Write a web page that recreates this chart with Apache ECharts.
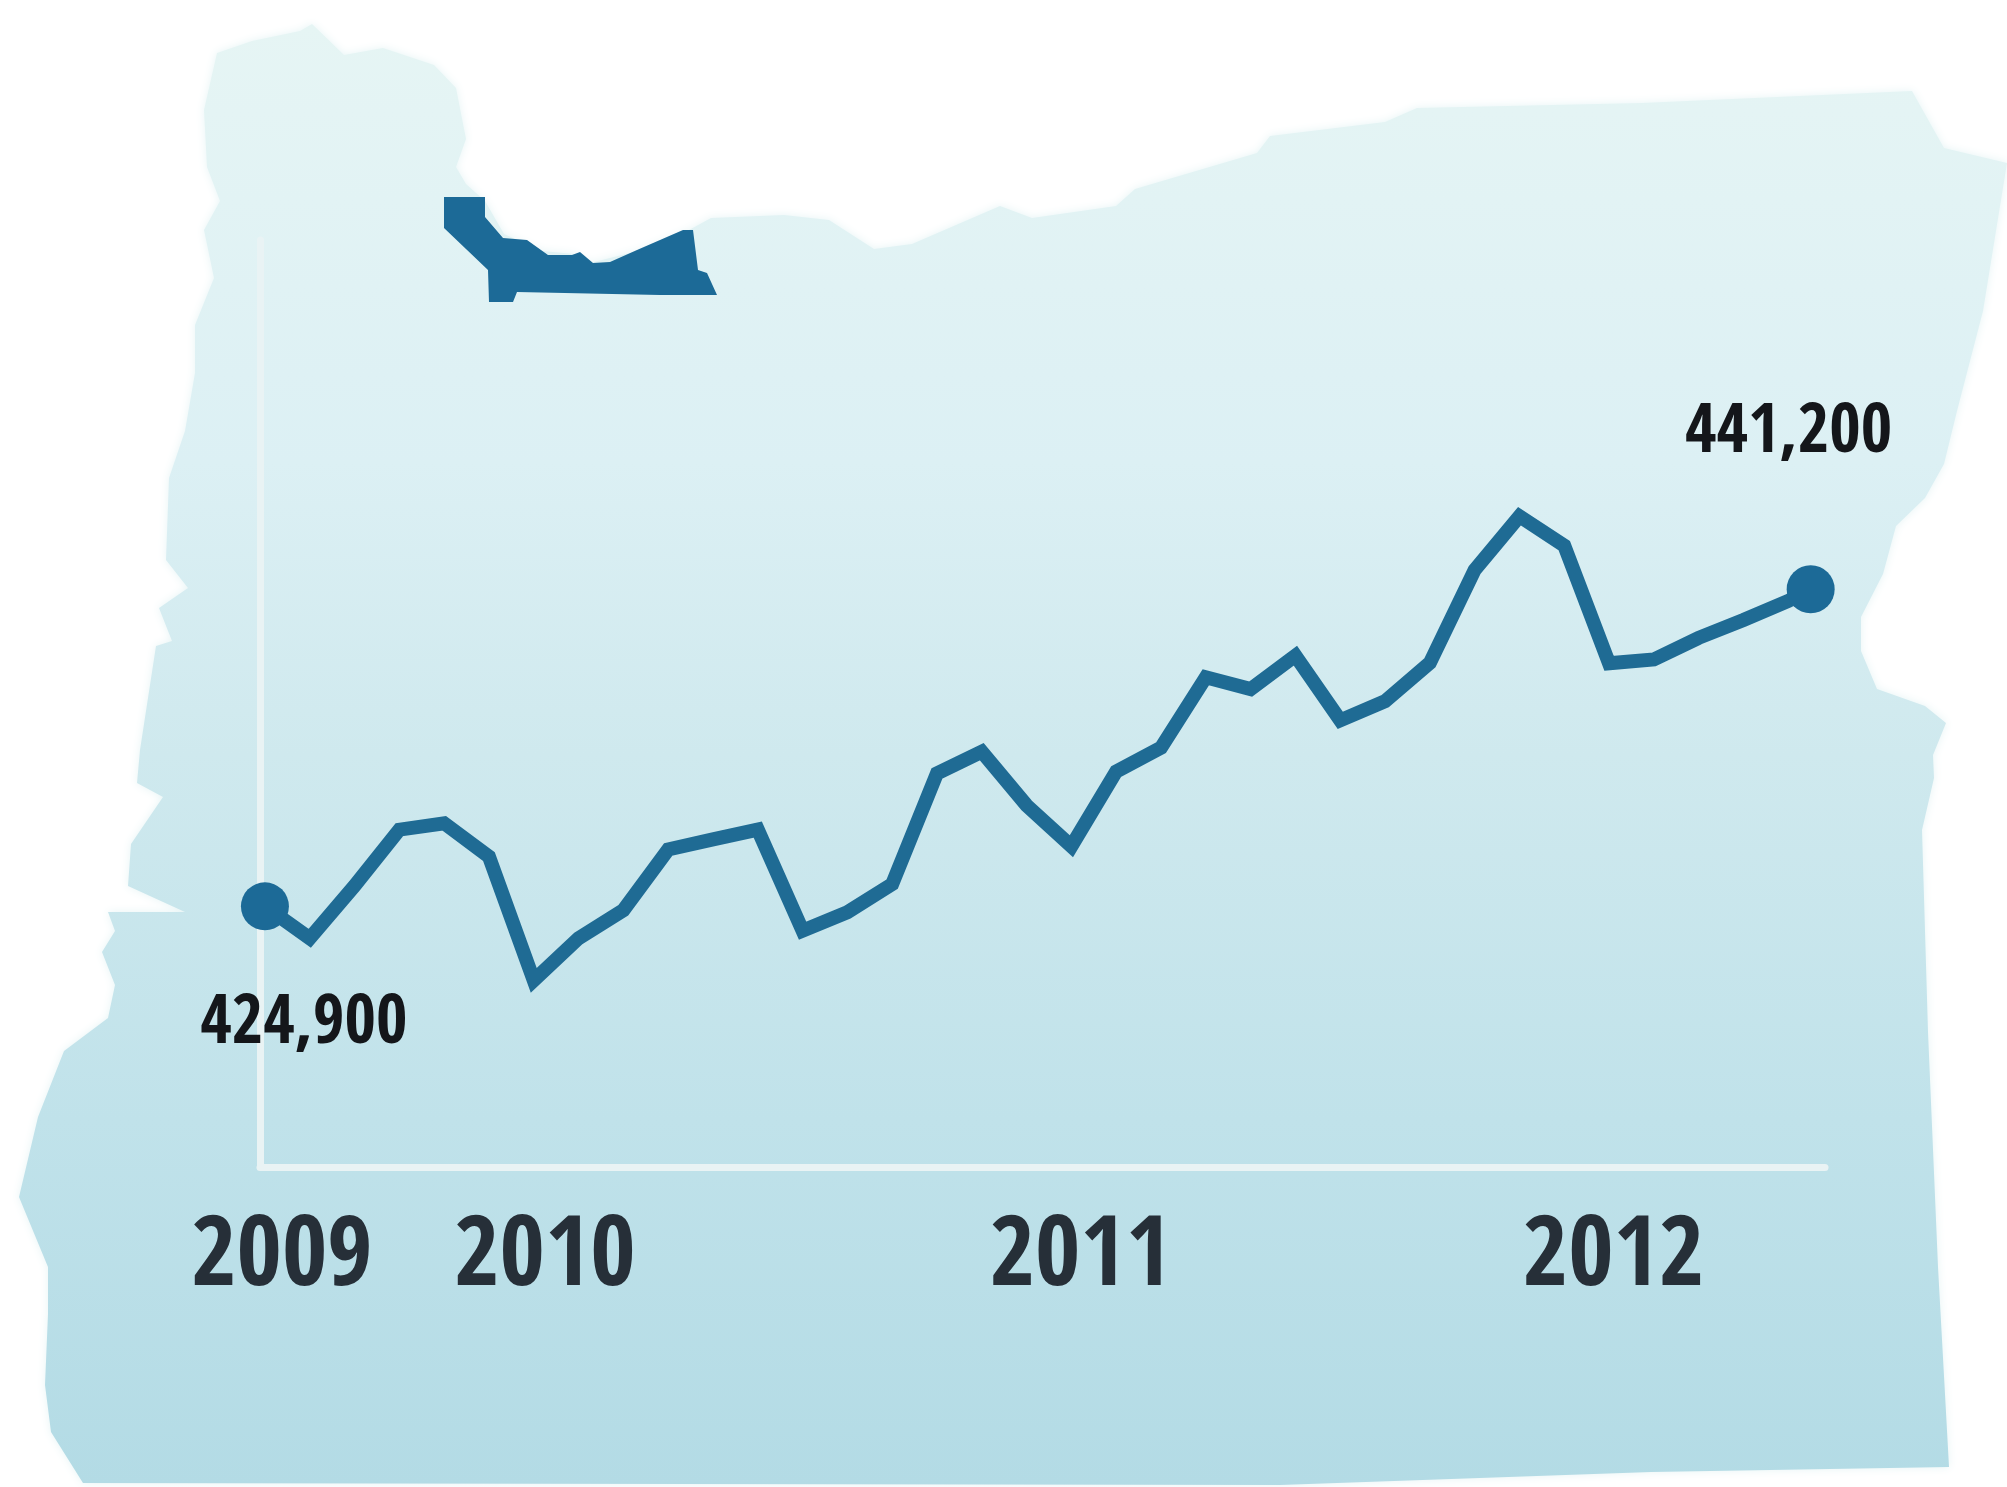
<!DOCTYPE html>
<html>
<head>
<meta charset="utf-8">
<style>html,body{margin:0;padding:0;background:#fff}#c{width:2007px;height:1487px}</style>
<script src="https://cdn.jsdelivr.net/npm/echarts@6/dist/echarts.min.js"></script>
</head>
<body>
<div id="c"></div>
<script>
// Position along the time axis in months since the first reading
const monthIndex = [0,1,2,3,4,5,6,7,8,9,10,11,12,13,14,15,16,17,18,19,20,21,22,23,24,25,26,27,28,29,30,31,32,33,34,34.5];
// Series values
const employment = [424900,423260,425950,428840,429170,427460,421090,423260,424700,427820,428340,428840,423650,424600,426040,431730,432850,430090,427990,431830,433050,436670,436070,437780,434460,435440,437410,442190,444950,443440,437390,437590,438700,439620,440600,441200];
// Tick labels
const yearLabels = ['2009','2010','2011','2012'];
const yearTicks = [0.38,6.25,18.2,30.1];

// Decorative silhouette of the state (pixel outline, not data)
const stateOutline = [[217,53],[252,41],[300,31],[312,24],[344,55],[383,48],[434,65],[456,88],[466,139],[456,167],[466,184],[485,201],[504,234],[542,251],[574,254],[590,263],[638,251],[689,230],[711,218],[784,215],[829,220],[874,249],[912,244],[1000,206],[1032,218],[1116,206],[1135,189],[1257,153],[1270,136],[1385,122],[1417,108],[1642,103],[1912,91],[1944,148],[2007,163],[1983,311],[1957,411],[1944,464],[1925,498],[1896,526],[1883,574],[1861,617],[1861,651],[1877,689],[1925,706],[1946,723],[1933,755],[1934,778],[1922,830],[1928,1032],[1938,1267],[1949,1467],[1651,1472],[1280,1485],[83,1483],[51,1432],[45,1385],[48,1314],[48,1267],[19,1197],[38,1117],[64,1051],[108,1018],[115,985],[102,952],[115,931],[108,912],[185,912],[128,886],[131,844],[163,797],[137,783],[140,750],[156,646],[172,641],[159,608],[188,588],[166,560],[169,478],[185,431],[195,373],[195,325],[214,278],[204,230],[220,201],[207,167],[204,110]];
const countyOutline = [[444,197],[485,197],[485,217],[503,238],[527,240],[548,255],[572,255],[580,252],[593,263],[610,262],[637,250],[683,230],[693,230],[698,270],[707,273],[717,295],[660,295],[517,292],[513,302],[489,302],[488,270],[444,228]];

const chart = echarts.init(document.getElementById('c'), null, {renderer:'canvas', width:2007, height:1487});
const numFont = '"Open Sans Condensed","Roboto Condensed",sans-serif';
const lastI = employment.length - 1;

chart.setOption({
  animation:false,
  backgroundColor:'#ffffff',
  graphic:[
    {type:'polygon', z:-2, silent:true, shape:{points:stateOutline},
     style:{fill:new echarts.graphic.LinearGradient(0,0,0,1,[
       {offset:0,color:'#e6f5f4'},{offset:0.3,color:'#dcf0f4'},{offset:0.5,color:'#cfe9ee'},{offset:0.75,color:'#c0e2ea'},{offset:1,color:'#b3dbe5'}]),
       shadowBlur:8, shadowColor:'#e6f4f5'}},
    {type:'polygon', z:-1, silent:true, shape:{points:countyOutline}, style:{fill:'#1c6a97'}}
  ],
  grid:{left:260, right:182, top:240, bottom:320},
  xAxis:{
    type:'value', min:-0.11, max:34.82, splitLine:{show:false},
    axisLine:{show:true, onZero:false, lineStyle:{color:'#e9f3f4', width:7}},
    axisTick:{show:false},
    axisLabel:{
      customValues:yearTicks,
      formatter:v=>yearLabels[yearTicks.indexOf(v)],
      margin:43, fontFamily:numFont, fontWeight:'bold', fontSize:98, color:'#262f38', hideOverlap:false
    }
  },
  yAxis:{
    type:'value', min:411500, max:459150, splitLine:{show:false},
    axisLine:{show:true, onZero:false, lineStyle:{color:'#e9f3f4', width:7}},
    axisTick:{show:false}, axisLabel:{show:false}
  },
  series:[{
    type:'line', silent:true, showAllSymbol:true,
    symbol:'circle',
    symbolSize:(v,p)=> (p.dataIndex===0||p.dataIndex===lastI)?48:0,
    lineStyle:{color:'#1f6b94', width:14, join:'miter', cap:'butt'},
    itemStyle:{color:'#1c6a97'},
    data:employment.map((v,i)=>{
      const d={value:[monthIndex[i],v]};
      if(i===0) d.label={show:true, position:'inside', offset:[39,119]};
      if(i===lastI) d.label={show:true, position:'inside', offset:[-22,-155]};
      return d;
    }),
    label:{show:false, fontFamily:numFont, fontWeight:'bold', fontSize:68, color:'#14161a',
      formatter:p=>p.value[1].toLocaleString('en-US')}
  }]
});
</script>
</body>
</html>
